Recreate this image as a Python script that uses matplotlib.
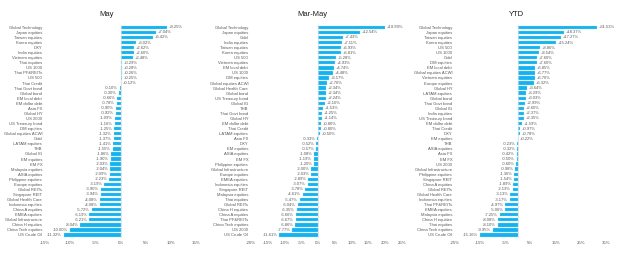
import numpy as np
import matplotlib.pyplot as plt

plt.rcParams['font.family'] = ['Liberation Sans', 'DejaVu Sans']

may_names = ['Global Technology', 'Japan equities', 'Taiwan equities', 'Korea equities', 'DXY',
             'India equities', 'Vietnam equities', 'Thai equities', 'US 1000', 'Thai PF&REITs',
             'US 500', 'Thai Credit', 'Thai Govt bond', 'Global bond', 'EM local debt',
             'EM dollar debt', 'Asia FX', 'Global HY', 'US 2000', 'US Treasury bond',
             'DM equities', 'Global equities ACWI', 'Gold', 'LATAM equities', 'THB', 'Global IG',
             'EM equities', 'EM FX', 'Malaysia equities', 'ASIA equities', 'Philippine equities',
             'Europe equities', 'Global REITs', 'Singapore REIT', 'Global Health Care',
             'Indonesia equities', 'China A equities', 'EMEA equities', 'Global Infrastructure',
             'China H equities', 'China Tech equities', 'US Crude Oil']
may_vals = [9.25, 7.04, 6.42, 3.02, 2.62, 2.60, 2.48, 0.29, 0.28, 0.26, 0.25, 0.12, -0.10,
            -0.30, -0.66, -0.78, -0.90, -0.92, -1.09, -1.16, -1.25, -1.32, -1.37, -1.41, -1.55,
            -1.86, -1.90, -2.03, -2.04, -2.09, -2.23, -3.19, -3.90, -3.94, -4.08, -4.08, -5.72,
            -6.19, -6.21, -8.04, -10.00, -11.32]

mm_names = ['Global Technology', 'Japan equities', 'Gold', 'India equities', 'Taiwan equities',
            'Korea equities', 'US 500', 'Vietnam equities', 'EM local debt', 'US 1000',
            'DM equities', 'Global equities ACWI', 'Global Health Care', 'Global bond',
            'US Treasury bond', 'Global IG', 'THB', 'Thai Govt bond', 'Global HY',
            'EM dollar debt', 'Thai Credit', 'LATAM equities', 'Asia FX', 'DXY', 'EM equities',
            'ASIA equities', 'EM FX', 'Philippine equities', 'Global Infrastructure',
            'Europe equities', 'EMEA equities', 'Indonesia equities', 'Singapore REIT',
            'Malaysia equities', 'Thai equities', 'Global REITs', 'China H equities',
            'China A equities', 'Thai PF&REITs', 'China Tech equities', 'US 2000', 'US Crude Oil']
mm_vals = [19.99, 12.54, 7.43, 7.11, 6.93, 6.81, 5.28, 4.93, 4.74, 4.48, 3.17, 2.76, 2.34,
           2.34, 2.24, 2.10, 1.53, 1.25, 1.14, 0.80, 0.80, 0.50, -0.33, -0.52, -0.57, -1.08,
           -1.19, -1.20, -2.00, -2.03, -2.89, -3.07, -3.78, -4.61, -5.47, -6.04, -6.35, -6.66,
           -6.67, -6.86, -7.77, -11.61]

ytd_names = ['Global Technology', 'Japan equities', 'Taiwan equities', 'Korea equities', 'US 500',
             'US 1000', 'Gold', 'DM equities', 'EM local debt', 'Global equities ACWI',
             'Vietnam equities', 'Europe equities', 'Global HY', 'LATAM equities', 'Global bond',
             'Thai Govt bond', 'Global IG', 'India equities', 'US Treasury bond',
             'EM dollar debt', 'Thai Credit', 'DXY', 'EM equities', 'THB', 'ASIA equities',
             'Asia FX', 'EM FX', 'US 2000', 'Global Infrastructure', 'Philippine equities',
             'Singapore REIT', 'China A equities', 'Global REITs', 'Global Health Care',
             'Indonesia equities', 'Thai PF&REITs', 'EMEA equities', 'Malaysia equities',
             'China H equities', 'Thai equities', 'China Tech equities', 'US Crude Oil']
ytd_vals = [31.53, 18.37, 17.27, 15.24, 8.86, 8.54, 7.60, 7.60, 6.85, 6.77, 6.76, 6.32, 3.64,
            3.29, 3.03, 2.99, 2.60, 2.37, 2.35, 1.59, 0.97, 0.78, 0.22, -0.23, -0.32, -0.42,
            -0.50, -0.60, -0.98, -1.36, -1.54, -1.89, -2.13, -3.13, -3.17, -4.97, -5.06, -7.25,
            -8.08, -8.10, -9.95, -15.16]

titles = ['May', 'Mar-May', 'YTD']
xticks = [np.arange(-15, 16, 5), np.arange(-20, 26, 5), np.arange(-25, 36, 10)]
lefts = [45, 251, 455]
title_x = [107, 312, 516]
panels = [(may_names, may_vals), (mm_names, mm_vals), (ytd_names, ytd_vals)]

W, H = 624, 254
fig = plt.figure(figsize=(W / 100, H / 100), dpi=100)
bar_col = '#14B2EF'
txt_col = '#595959'

for i, (names, vals) in enumerate(panels):
    ax = fig.add_axes([lefts[i] / W, 1 - 237.5 / H, 151 / W, 212.7 / H])
    y = np.arange(len(names))
    ax.barh(y, vals, height=0.66, color=bar_col, edgecolor='#9FE0F8', linewidth=0.2)
    ax.set_ylim(len(names) - 0.5, -0.5)
    ax.set_xlim(xticks[i][0], xticks[i][-1])
    ax.set_xticks(xticks[i])
    ax.set_xticklabels(['%d%%' % t for t in xticks[i]], fontsize=3.2, color=txt_col)
    ax.set_yticks(y)
    ax.set_yticklabels(names, fontsize=3.0, color=txt_col)
    ax.tick_params(length=0)
    ax.tick_params(axis='x', pad=2.5)
    ax.tick_params(axis='y', pad=2)
    for s in ax.spines.values():
        s.set_visible(False)
    ax.axvline(0, color='#D9D9D9', linewidth=0.5)
    span = xticks[i][-1] - xticks[i][0]
    for yy, v in zip(y, vals):
        txt = ('+%.2f%%' % v) if v >= 0 else ('%.2f%%' % v)
        off = span * 0.012
        if v >= 0:
            ax.text(v + off, yy, txt, va='center', ha='left', fontsize=3.0, color=txt_col)
        else:
            ax.text(v - off, yy, txt, va='center', ha='right', fontsize=3.0, color=txt_col)
    fig.text(title_x[i] / W, 1 - 14.5 / H, titles[i], ha='center', va='center',
             fontsize=5.5, color='#202020')

fig.savefig('out.png', dpi=100)
